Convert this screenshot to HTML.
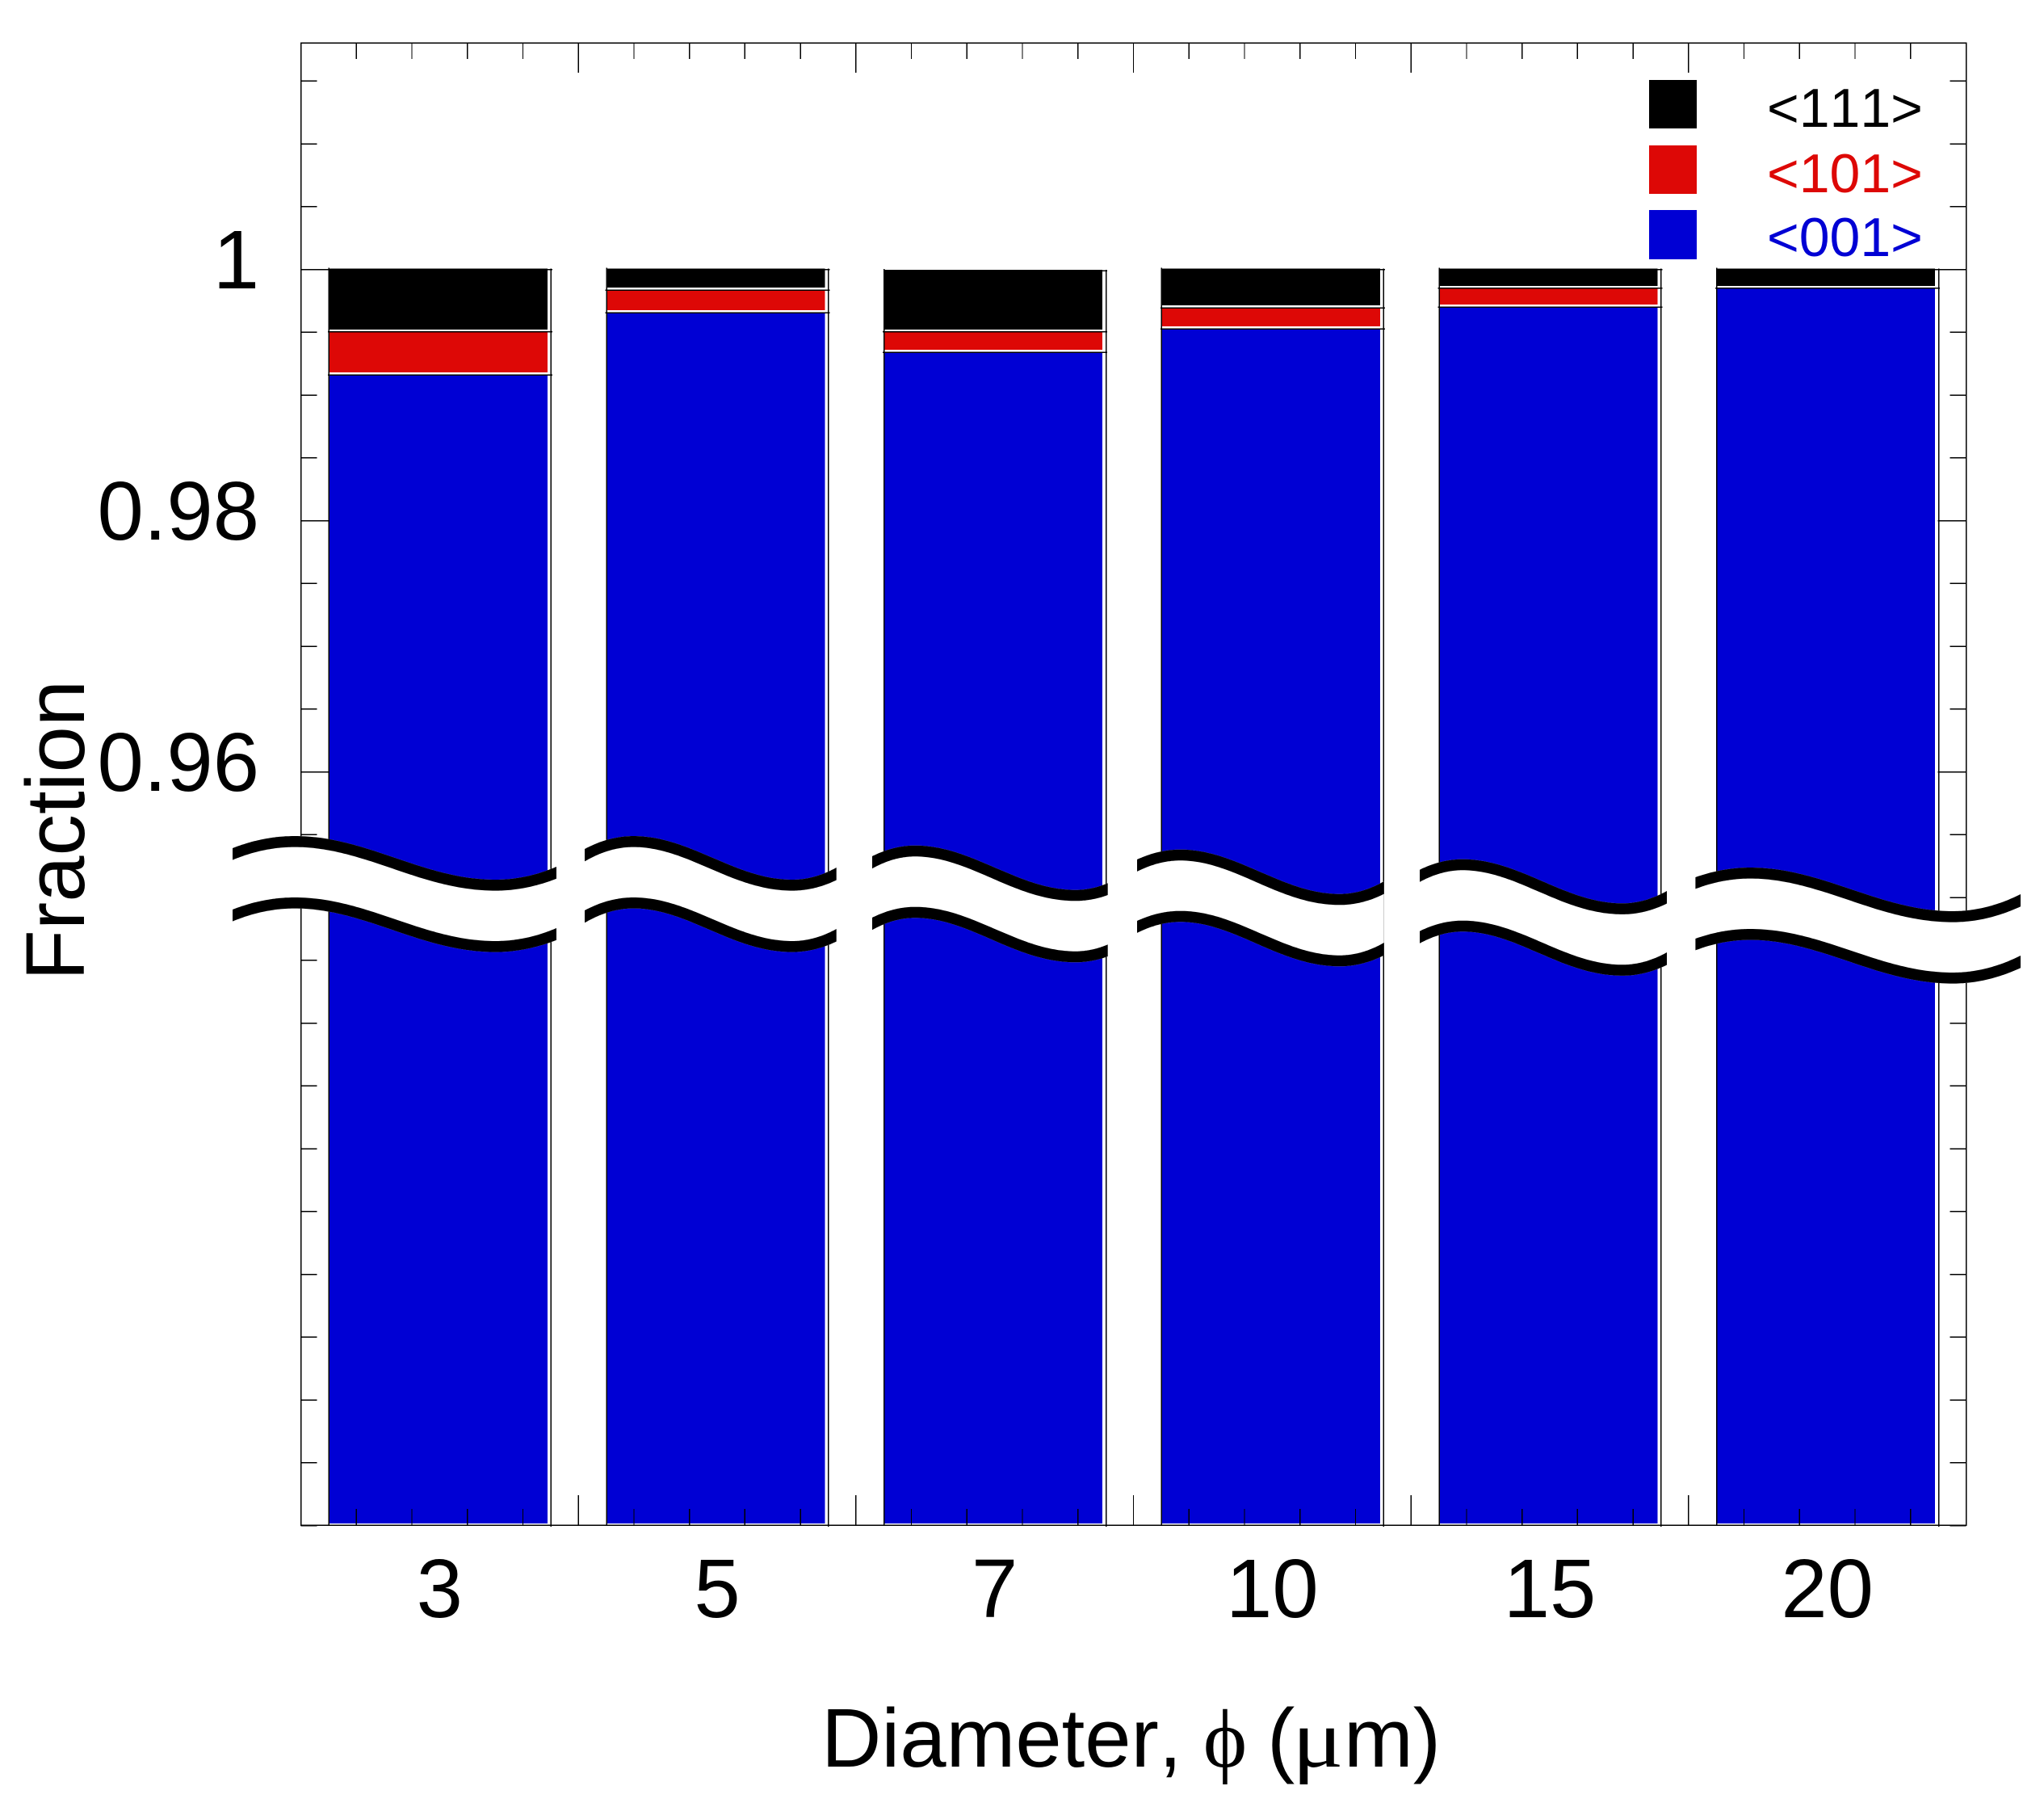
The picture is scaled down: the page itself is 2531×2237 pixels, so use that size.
<!DOCTYPE html>
<html lang="en">
<head>
<meta charset="utf-8">
<title>Fraction by diameter</title>
<style>
html,body{margin:0;padding:0;background:#fff;}
svg{display:block;}
text{font-family:"Liberation Sans",sans-serif;fill:#000;font-kerning:none;}
</style>
</head>
<body>
<svg id="chart" xmlns="http://www.w3.org/2000/svg" width="2531" height="2237" viewBox="0 0 2531 2237">
  <rect x="0" y="0" width="2531" height="2237" fill="#fff"/>
  <g id="bars"></g>
  <g id="axes" shape-rendering="crispEdges"></g>
  <g id="breaks"></g>
  <g id="labels"></g>
  <text transform="translate(104,1214) rotate(-90)" font-size="103">Fraction</text>
  <g font-size="103">
    <text x="1017" y="2187" font-size="103">Diameter,</text>
    <text transform="translate(1517,2187)" font-size="103" text-anchor="middle" style="font-family:'Liberation Serif','DejaVu Serif',serif">ϕ</text>
    <text x="1569" y="2187" font-size="103">(</text>
    <text transform="translate(1600,2187) scale(1.15,1)" font-size="103" style="font-family:'Liberation Serif',serif">μ</text>
    <text x="1664" y="2187" font-size="103">m)</text>
  </g>
  <g shape-rendering="crispEdges">
    <rect x="2042" y="99" width="59" height="60" fill="#000"/>
    <rect x="2042" y="180" width="59" height="60" fill="#dd0806"/>
    <rect x="2042" y="260" width="59" height="61" fill="#0000d4"/>
  </g>
  <text x="2188" y="157" font-size="68" style="fill:#000">&lt;111&gt;</text>
  <text x="2188" y="238" font-size="68" style="fill:#dd0806">&lt;101&gt;</text>
  <text x="2188" y="317" font-size="68" style="fill:#0000d4">&lt;001&gt;</text>
</svg>
<script>
const categories = ['3', '5', '7', '10', '15', '20'];
const series001 = [0.99158, 0.99653, 0.99339, 0.99525, 0.99699, 0.99849];
const series101 = [0.00344, 0.00183, 0.00163, 0.00168, 0.00150, 0.00000];
const series111 = [0.00498, 0.00164, 0.00488, 0.00307, 0.00151, 0.00151];
const yTickValues = [1, 0.98, 0.96];
const yTickLabels = ['1', '0.98', '0.96'];

const NS = 'http://www.w3.org/2000/svg';
const PLOT_LEFT = 372.5, PLOT_RIGHT = 2434.5, PLOT_TOP = 53, PLOT_BOTTOM = 1888;
const Y_AT_ONE = 333.5, PX_PER_UNIT = 15550, Y_MIN = 0.9, Y_MAX = 1.018;
const BLACK = '#000', RED = '#dd0806', BLUE = '#0000d4';

function yScale(v) { return Y_AT_ONE + (1 - v) * PX_PER_UNIT; }
function bandWidth() { return (PLOT_RIGHT - PLOT_LEFT) / categories.length; }
function xCenter(i) { return PLOT_LEFT + bandWidth() * (i + 0.5); }

function make(tag, parent, attrs) {
  const el = document.createElementNS(NS, tag);
  for (const k in attrs) el.setAttribute(k, attrs[k]);
  parent.appendChild(el);
  return el;
}

/* ---------- bars ---------- */
const barsG = document.getElementById('bars');
categories.forEach(function (cat, i) {
  const w = bandWidth() * 0.8;
  const x0 = xCenter(i) - w / 2 + 0.5;
  const x1 = x0 + w;
  const g = make('g', barsG, { 'shape-rendering': 'crispEdges' });
  
  

  const yBlue = yScale(series001[i]);
  const yRed = yScale(series001[i] + series101[i]);
  const yBlack = yScale(series001[i] + series101[i] + series111[i]);

  const blue = make('rect', g, { x: x0, y: yBlue + 0.5, width: w - 4.5, height: (PLOT_BOTTOM - 2) - yBlue - 0.5, fill: BLUE });
  
  

  if (series101[i] > 0) {
    const red = make('rect', g, { x: x0, y: yRed + 0.5, width: w - 4.5, height: yBlue - yRed - 4, fill: RED });
    
    
  }

  const black = make('rect', g, { x: x0, y: yBlack - 1, width: w - 4.5, height: yRed - yBlack - 2, fill: BLACK });
  
  

  const left = make('line', g, { x1: x0, x2: x0, y1: yBlack - 2, y2: PLOT_BOTTOM, stroke: '#000', 'stroke-width': 1.5 });
  
  

  const right = make('line', g, { x1: x1, x2: x1, y1: yBlack - 1, y2: PLOT_BOTTOM + 2, stroke: '#000', 'stroke-width': 1.5 });
  
  

  [yBlack, yRed, yBlue].forEach(function (yy, j) {
    if (j === 1 && series101[i] === 0) return;
    const seam = make('line', g, { x1: x0 - (j ? 1.5 : 0), x2: x1 + 1.5, y1: yy, y2: yy, stroke: '#000', 'stroke-width': 1.5 });
    
    
  });
});

/* ---------- axes ---------- */
const axesG = document.getElementById('axes');
const frame = make('rect', axesG, { x: PLOT_LEFT, y: PLOT_TOP, width: PLOT_RIGHT - PLOT_LEFT, height: PLOT_BOTTOM - PLOT_TOP, fill: 'none', stroke: '#000', 'stroke-width': 1.5 });



for (let k = 0; k <= 23; k++) {
  const v = Y_MIN + k * 0.005;
  const y = yScale(v);
  const major = k % 4 === 0 && k >= 12;
  const len = major ? 35 : 20;
  const a = make('line', axesG, { x1: PLOT_LEFT, x2: PLOT_LEFT + len, y1: y, y2: y, stroke: '#000', 'stroke-width': 1.5 });
  
  
  const b = make('line', axesG, { x1: PLOT_RIGHT, x2: PLOT_RIGHT - len, y1: y, y2: y, stroke: '#000', 'stroke-width': 1.5 });
  
  
}

for (let k = 1; k < categories.length * 5; k++) {
  const x = PLOT_LEFT + k * bandWidth() / 5;
  const len = k % 5 === 0 ? 37 : 20;
  const a = make('line', axesG, { x1: x, x2: x, y1: PLOT_TOP, y2: PLOT_TOP + len, stroke: '#000', 'stroke-width': 1.3 });
  
  
  const b = make('line', axesG, { x1: x, x2: x, y1: PLOT_BOTTOM, y2: PLOT_BOTTOM - len, stroke: '#000', 'stroke-width': 1.3 });
  
  
}

/* ---------- tick labels ---------- */
const labelsG = document.getElementById('labels');
yTickValues.forEach(function (v, i) {
  const t = make('text', labelsG, { x: 321, y: yScale(v) + 23.5, 'font-size': 103, 'text-anchor': 'end' });
  t.textContent = yTickLabels[i];
  
  
});
categories.forEach(function (cat, i) {
  const t = make('text', labelsG, { x: xCenter(i), y: 2002, 'font-size': 103, 'text-anchor': 'middle' });
  t.textContent = cat;
  
  
});

/* ---------- decorative axis break ---------- */
const breaksG = document.getElementById('breaks');
function waveSamples(s, p, t, e) {
  const pts = [];
  const N = 40;
  for (let i = 0; i < N; i++) {
    const u = i / N, m = 1 - u;
    const cx = s[0] + (p[0] - s[0]) * 0.5;
    pts.push([m * m * s[0] + 2 * m * u * cx + u * u * p[0], m * m * s[1] + 2 * m * u * p[1] + u * u * p[1]]);
  }
  const dx = t[0] - p[0];
  for (let i = 0; i < N * 2; i++) {
    const u = i / (N * 2), m = 1 - u;
    const c1 = p[0] + 0.36 * dx, c2 = t[0] - 0.36 * dx;
    pts.push([
      m * m * m * p[0] + 3 * m * m * u * c1 + 3 * m * u * u * c2 + u * u * u * t[0],
      m * m * m * p[1] + 3 * m * m * u * p[1] + 3 * m * u * u * t[1] + u * u * u * t[1]
    ]);
  }
  for (let i = 0; i <= N; i++) {
    const u = i / N, m = 1 - u;
    const cx = t[0] + (e[0] - t[0]) * 0.5;
    pts.push([m * m * t[0] + 2 * m * u * cx + u * u * e[0], m * m * t[1] + 2 * m * u * t[1] + u * u * e[1]]);
  }
  return pts;
}
function shift(pts, off) {
  return pts.map(function (q, i) {
    const a = pts[Math.max(0, i - 1)], b = pts[Math.min(pts.length - 1, i + 1)];
    const slope = (b[1] - a[1]) / ((b[0] - a[0]) || 1);
    const thick = 13.6 * Math.sqrt(1 + slope * slope);
    return [q[0], q[1] + off.base + off.thick * thick];
  });
}
function toPoints(pts) {
  return pts.map(function (q) { return q[0].toFixed(1) + ',' + q[1].toFixed(1); }).join(' ');
}
function breakMark(index, s, p, t, e) {
  const GAP = 76;
  const top = waveSamples(s, p, t, e);
  const upperTop = shift(top, { base: 0, thick: 0 });
  const upperBottom = shift(top, { base: 0, thick: 1 });
  const lowerTop = shift(top, { base: GAP, thick: 0 });
  const lowerBottom = shift(top, { base: GAP, thick: 1 });

  const white = make('polygon', breaksG, { points: toPoints(upperTop.concat(lowerBottom.slice().reverse())), fill: '#fff' });
  
  

  const upper = make('polygon', breaksG, { points: toPoints(upperTop.concat(upperBottom.slice().reverse())), fill: '#000' });
  
  

  const lower = make('polygon', breaksG, { points: toPoints(lowerTop.concat(lowerBottom.slice().reverse())), fill: '#000' });
  
  
}
breakMark(1, [288, 1050], [365, 1035], [613.5, 1089], [689, 1073]);
breakMark(2, [724, 1051], [784.4, 1035], [981, 1089], [1035.7, 1074]);
breakMark(3, [1080, 1060], [1133, 1046.7], [1331.7, 1101.7], [1371.7, 1093.3]);
breakMark(4, [1408, 1064], [1461.5, 1051.7], [1658.8, 1106.7], [1713.8, 1091]);
breakMark(5, [1758, 1076.7], [1811, 1063.7], [2009, 1118.3], [2064, 1103]);
breakMark(6, [2099.4, 1086], [2167, 1074], [2418, 1128], [2502, 1107]);
</script>
</body>
</html>
